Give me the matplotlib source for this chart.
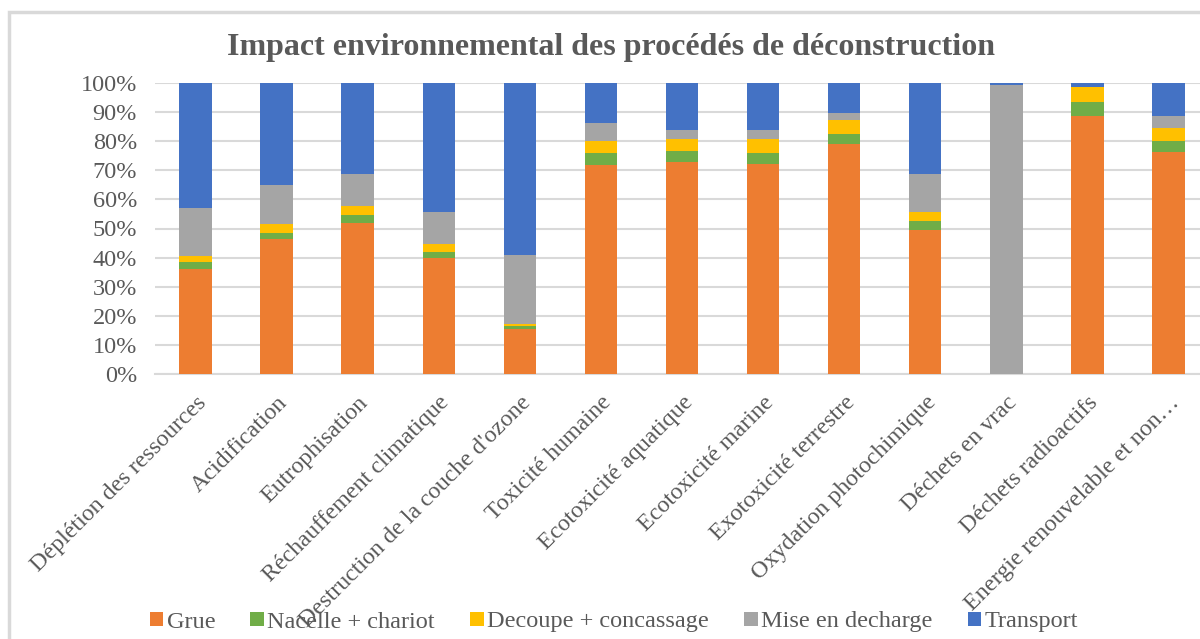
import matplotlib.pyplot as plt
import numpy as np
from matplotlib.patches import Rectangle
from matplotlib.ticker import PercentFormatter

# share of each process in every impact category (%)
categories = [
    "Déplétion des ressources",
    "Acidification",
    "Eutrophisation",
    "Réchauffement climatique",
    "Destruction de la couche d'ozone",
    "Toxicité humaine",
    "Ecotoxicité aquatique",
    "Ecotoxicité marine",
    "Exotoxicité terrestre",
    "Oxydation photochimique",
    "Déchets en vrac",
    "Déchets radioactifs",
    "Energie renouvelable et non…",
]
grue = [36.0, 46.3, 51.8, 39.9, 15.4, 71.7, 72.8, 72.1, 79.0, 49.5, 0.0, 88.8, 76.2]
nacelle = [2.4, 2.0, 2.7, 1.9, 1.1, 4.1, 3.7, 4.0, 3.6, 3.0, 0.0, 4.5, 3.7]
decoupe = [2.1, 3.1, 3.1, 2.8, 0.6, 4.1, 4.4, 4.5, 4.8, 3.0, 0.0, 5.4, 4.8]
decharge = [16.4, 13.7, 11.3, 10.9, 23.7, 6.2, 3.1, 3.4, 2.4, 13.1, 99.4, 0.0, 4.1]
transport = [43.1, 34.9, 31.1, 44.5, 59.2, 13.9, 16.0, 16.0, 10.2, 31.4, 0.6, 1.3, 11.2]

series = [
    ("Grue", grue, "#ED7D31"),
    ("Nacelle + chariot", nacelle, "#70AD47"),
    ("Decoupe + concassage", decoupe, "#FFC000"),
    ("Mise en decharge", decharge, "#A5A5A5"),
    ("Transport", transport, "#4472C4"),
]

plt.rcParams["font.family"] = ["Liberation Serif", "DejaVu Serif"]
txt = "#595959"
grid = "#d9d9d9"

fig = plt.figure(figsize=(12, 6.39), dpi=100)
ax = fig.add_axes([155 / 1200, 1 - 374 / 639, 1054 / 1200, 291 / 639])

x = np.arange(len(categories))
bottom = np.zeros(len(categories))
for name, vals, col in series:
    vals = np.array(vals)
    ax.bar(x, vals, 0.4, bottom=bottom, color=col, label=name, zorder=3)
    bottom += vals

ax.set_xlim(-0.5, len(categories) - 0.5)
ax.set_ylim(0, 100)
ax.set_yticks(np.arange(0, 101, 10))
ax.yaxis.set_major_formatter(PercentFormatter(decimals=0))
ax.grid(axis="y", color=grid, linewidth=1.5, zorder=0)
for s in ["top", "left", "right"]:
    ax.spines[s].set_visible(False)
ax.spines["bottom"].set_color(grid)
ax.spines["bottom"].set_linewidth(1.5)
ax.tick_params(axis="y", length=0, pad=13, labelsize=17.5, labelcolor=txt)
ax.tick_params(axis="x", length=0, pad=13, labelsize=17.3, labelcolor=txt)
ax.set_xticks(x)
ax.set_xticklabels(categories, rotation=45, ha="right", va="top",
                   rotation_mode="anchor")

fig.text(611 / 1200, 1 - 48 / 639, "Impact environnemental des procédés de déconstruction",
         ha="center", va="center", fontsize=23, fontweight="bold", color=txt)

leg = fig.legend(loc="center", bbox_to_anchor=(614 / 1200, 1 - 622 / 639), ncol=5,
                 frameon=False, fontsize=17.5, handlelength=0.55, handleheight=0.55,
                 handletextpad=0.15, columnspacing=1.45, labelcolor=txt)

# chart area border
fig.patches.append(Rectangle((9 / 1200, -0.1), 1.0, 1.1 - 12 / 639,
                             transform=fig.transFigure, fill=False,
                             edgecolor=grid, linewidth=2.5))

fig.savefig("out.png", dpi=100)
